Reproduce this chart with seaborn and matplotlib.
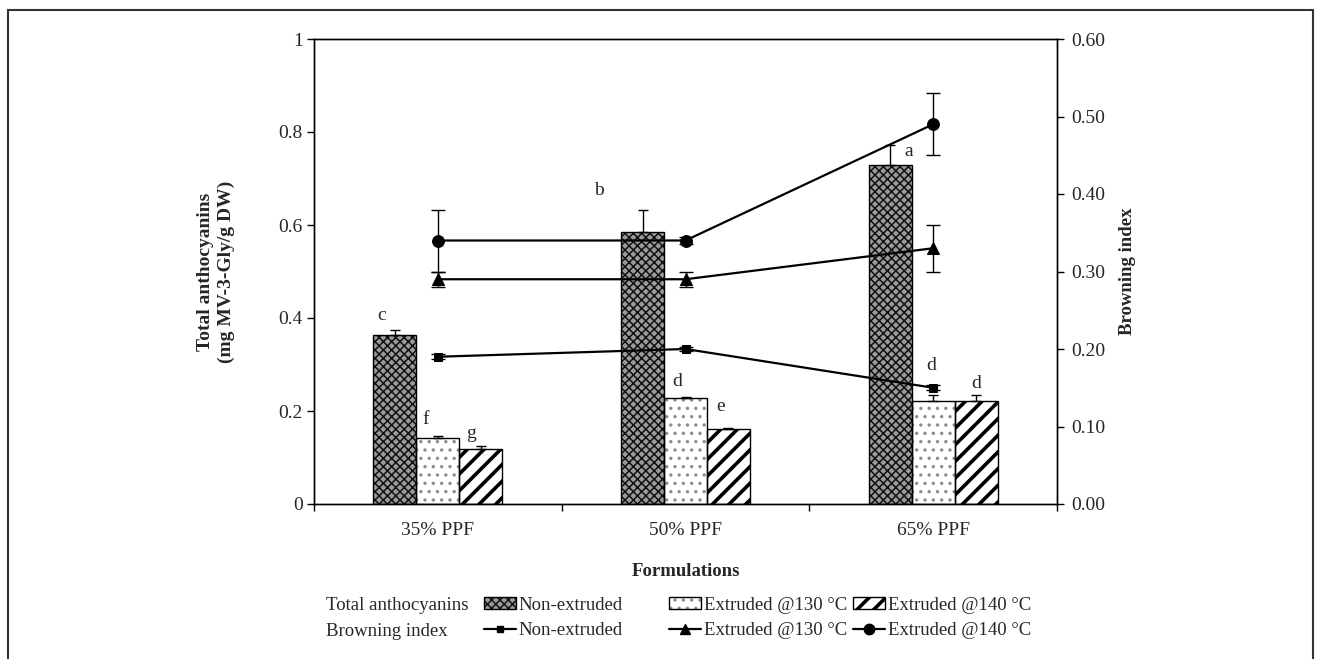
import numpy as np
import pandas as pd
import matplotlib
matplotlib.use("Agg")
import matplotlib.pyplot as plt
import seaborn as sns
from matplotlib.patches import Patch, Rectangle
from matplotlib.lines import Line2D
from matplotlib.container import BarContainer

# ---------------- data ----------------
categories = ["35% PPF", "50% PPF", "65% PPF"]
treatments = ["Non-extruded", "Extruded @130 °C", "Extruded @140 °C"]

anth_non = [0.363, 0.584, 0.729]
anth_130 = [0.142, 0.229, 0.222]
anth_140 = [0.118, 0.161, 0.222]
anth_err_non = [0.012, 0.048, 0.042]
anth_err_130 = [0.005, 0.002, 0.012]
anth_err_140 = [0.007, 0.003, 0.013]
letters_non = ["c", "b", "a"]
letters_130 = ["f", "d", "d"]
letters_140 = ["g", "e", "d"]

brown_non = [0.19, 0.20, 0.15]
brown_130 = [0.29, 0.29, 0.33]
brown_140 = [0.34, 0.34, 0.49]
brown_err_non = [0.003, 0.003, 0.003]
brown_err_130 = [0.01, 0.01, 0.03]
brown_err_140 = [0.04, 0.004, 0.04]

left_ticks = [0, 0.2, 0.4, 0.6, 0.8, 1]
left_ticklabels = ["0", "0.2", "0.4", "0.6", "0.8", "1"]
right_ticks = [0, 0.1, 0.2, 0.3, 0.4, 0.5, 0.6]
right_ticklabels = ["0.00", "0.10", "0.20", "0.30", "0.40", "0.50", "0.60"]

# ---------------- styles ----------------
bar_face = ["#9a9a9a", "white", "white"]
bar_hatchcol = ["#111111", "#8c8c8c", "black"]
bar_hatch = ["xxxx", "..", "//"]
bar_hatch_lw = [1.1, 1.2, 2.6]
line_markers = ["s", "^", "o"]
line_msize = [5.5, 8, 8.5]
# letter label offsets (pixels) relative to top of error bar
letter_offsets = [[(-13, 14), (-44, 20), (18, -6)],
                  [(-12, 16), (-8, 15), (-2, 30)],
                  [(-10, 12), (-8, 21), (0, 11)]]

W, H = 1322, 659
FS = 14
sns.set_style("ticks")
plt.rcParams["font.family"] = ["Liberation Serif", "DejaVu Serif"]
plt.rcParams["hatch.linewidth"] = 1.0
plt.rcParams["font.size"] = FS

fig = plt.figure(figsize=(W / 100, H / 100), dpi=100)
ax = fig.add_axes([314 / W, 1 - 504 / H, (1057 - 314) / W, (504 - 39) / H])

df = pd.DataFrame({
    "Formulation": categories * 3,
    "Treatment": np.repeat(treatments, len(categories)),
    "value": anth_non + anth_130 + anth_140,
})
sns.barplot(data=df, x="Formulation", y="value", hue="Treatment",
            order=categories, hue_order=treatments, width=0.52, gap=0,
            errorbar=None, ax=ax, legend=False,
            palette=["#888888", "#ffffff", "#ffffff"])

bar_conts = [c for c in ax.containers if isinstance(c, BarContainer)]
anth_errs = [anth_err_non, anth_err_130, anth_err_140]
anth_letters = [letters_non, letters_130, letters_140]
for k, cont in enumerate(bar_conts):
    xs, hs = [], []
    for j, rect in enumerate(cont.patches):
        rect.set_facecolor(bar_face[k])
        rect.set_edgecolor(bar_hatchcol[k])
        rect.set_hatch(bar_hatch[k])
        rect.set_linewidth(0)
        if hasattr(rect, "set_hatch_linewidth"):
            rect.set_hatch_linewidth(bar_hatch_lw[k])
        ax.add_patch(Rectangle(rect.get_xy(), rect.get_width(), rect.get_height(),
                               fill=False, edgecolor="black", lw=1.0,
                               zorder=rect.get_zorder() + 0.1))
        xs.append(rect.get_x() + rect.get_width() / 2)
        hs.append(rect.get_height())
    errs = anth_errs[k]
    ax.errorbar(xs, hs, yerr=[np.zeros(len(errs)), errs], fmt="none",
                ecolor="black", elinewidth=1.0, capsize=3.5, capthick=1.0, zorder=4)
    for j in range(len(xs)):
        dx, dy = letter_offsets[k][j]
        ax.annotate(anth_letters[k][j], xy=(xs[j], hs[j] + errs[j]),
                    xytext=(dx, dy), textcoords="offset pixels",
                    ha="center", va="center", fontsize=FS)

ax.set_ylim(0, 1)
ax.set_yticks(left_ticks, left_ticklabels)
ax.set_xlim(-0.5, len(categories) - 0.5)
ax.set_xticks(range(len(categories)), categories)
ax.set_xticks(np.arange(-0.5, len(categories)), minor=True)
ax.tick_params(axis="x", which="major", length=0, pad=13, labelsize=FS)
ax.tick_params(axis="x", which="minor", length=5, width=1, direction="out", color="black")
ax.tick_params(axis="y", length=5, width=1, direction="out", pad=3, labelsize=FS, color="black")
ax.set_xlabel("Formulations", fontweight="bold", fontsize=13.5, labelpad=17)
ax.set_ylabel("Total anthocyanins\n(mg MV-3-Gly/g DW)", fontweight="bold",
              fontsize=14, labelpad=31, linespacing=1.3)
for s in ax.spines.values():
    s.set_color("black")
    s.set_linewidth(1.0)

# ---------------- browning index (right axis) ----------------
ax2 = ax.twinx()
xpos = np.arange(len(categories))
browns = [brown_non, brown_130, brown_140]
brown_errs = [brown_err_non, brown_err_130, brown_err_140]
for k in range(3):
    sns.lineplot(x=xpos, y=browns[k], ax=ax2, color="black", lw=1.6,
                 marker=line_markers[k], markersize=line_msize[k],
                 markeredgecolor="black", sort=False, zorder=5)
    ax2.errorbar(xpos, browns[k], yerr=brown_errs[k], fmt="none",
                 ecolor="black", elinewidth=1.0, capsize=5, capthick=1.0, zorder=5)
ax2.set_ylim(0, 0.6)
ax2.set_yticks(right_ticks, right_ticklabels)
ax2.tick_params(axis="y", length=5, width=1, direction="out", pad=5, labelsize=FS, color="black")
ax2.set_ylabel("Browning index", fontweight="bold", fontsize=13.5, labelpad=10)
ax2.set_xlim(-0.5, len(categories) - 0.5)
for s in ax2.spines.values():
    s.set_color("black")
    s.set_linewidth(1.0)

# ---------------- legend ----------------
LFS = 13.5
row_labels = ["Total anthocyanins", "Browning index"]
fig.text(326 / W, 1 - 606 / H, row_labels[0], ha="left", va="center", fontsize=LFS)
fig.text(326 / W, 1 - 632 / H, row_labels[1], ha="left", va="center", fontsize=LFS)
leg_x = [484, 669, 853]
for k, t in enumerate(treatments):
    with plt.rc_context({"hatch.linewidth": bar_hatch_lw[k]}):
        hp = Patch(facecolor=bar_face[k], edgecolor=bar_hatchcol[k], hatch=bar_hatch[k], lw=0)
        bar_handle = (hp, Patch(fill=False, edgecolor="black", lw=1.0))
        line_handle = Line2D([], [], color="black", lw=1.6, marker=line_markers[k],
                             markersize=line_msize[k] - 1)
        fig.legend([bar_handle, line_handle], [t, t], loc="upper left",
                   bbox_to_anchor=(leg_x[k] / W, 1 - 597 / H), frameon=False,
                   borderpad=0, borderaxespad=0, handlelength=1.7, handleheight=0.6,
                   handletextpad=0.15, labelspacing=0.45, fontsize=LFS)

# figure border
fig.add_artist(Rectangle((8 / W, -0.1), (1313 - 8) / W, 1.1 - 9.5 / H,
                         transform=fig.transFigure, fill=False,
                         edgecolor="#333333", lw=1.5, clip_on=False))

fig.savefig("out.png", dpi=100)
